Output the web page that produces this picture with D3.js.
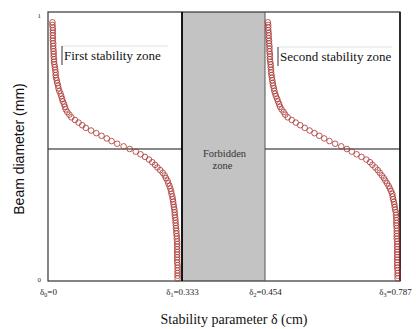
<!DOCTYPE html>
<html>
<head>
<meta charset="utf-8">
<script src="https://cdn.jsdelivr.net/npm/d3@7"></script>
<style>
  html, body { margin: 0; padding: 0; background: #fff; }
  svg { display: block; }
</style>
</head>
<body>
<svg id="chart" width="416" height="329"></svg>
<script>
// ---- data ----
const beamDiameter = [
  0.98,0.97,0.96,0.95,0.94,0.93,0.92,0.91,0.90,0.89,
  0.88,0.87,0.86,0.85,0.84,0.83,0.82,0.81,0.80,0.79,
  0.78,0.77,0.76,0.75,0.74,0.73,0.72,0.71,0.70,0.69,
  0.68,0.67,0.66,0.65,0.64,0.63,0.62,0.61,0.60,0.59,
  0.58,0.57,0.56,0.55,0.54,0.53,0.52,0.51,0.50,0.49,
  0.48,0.47,0.46,0.45,0.44,0.43,0.42,0.41,0.40,0.39,
  0.38,0.37,0.36,0.35,0.34,0.33,0.32,0.31,0.30,0.29,
  0.28,0.27,0.26,0.25,0.24,0.23,0.22,0.21,0.20,0.19,
  0.18,0.17,0.16,0.15,0.14,0.13,0.12,0.11,0.10,0.09,
  0.08,0.07,0.06,0.05,0.04,0.03,0.02,0.01
];
const firstZoneDelta = [
  0.011,0.011,0.012,0.012,0.012,0.012,0.012,0.012,0.013,0.013,
  0.013,0.014,0.014,0.014,0.015,0.015,0.016,0.017,0.018,0.019,
  0.019,0.020,0.022,0.023,0.025,0.026,0.028,0.031,0.033,0.035,
  0.037,0.040,0.042,0.044,0.048,0.053,0.058,0.067,0.076,0.085,
  0.094,0.107,0.120,0.133,0.146,0.158,0.172,0.188,0.203,0.218,
  0.230,0.241,0.251,0.259,0.266,0.272,0.279,0.285,0.290,0.293,
  0.297,0.299,0.302,0.304,0.306,0.307,0.309,0.310,0.311,0.312,
  0.313,0.314,0.315,0.315,0.316,0.317,0.317,0.318,0.318,0.319,
  0.319,0.320,0.320,0.321,0.321,0.321,0.321,0.321,0.321,0.321,
  0.321,0.321,0.322,0.322,0.322,0.322,0.322,0.322
];
const secondZoneDelta = [
  0.461,0.462,0.462,0.462,0.463,0.463,0.463,0.464,0.464,0.465,
  0.465,0.465,0.466,0.466,0.466,0.467,0.468,0.468,0.469,0.469,
  0.470,0.471,0.472,0.473,0.474,0.476,0.477,0.479,0.481,0.484,
  0.486,0.489,0.491,0.495,0.500,0.504,0.510,0.520,0.530,0.541,
  0.552,0.564,0.576,0.588,0.600,0.613,0.627,0.642,0.656,0.668,
  0.680,0.692,0.704,0.713,0.719,0.726,0.732,0.737,0.742,0.747,
  0.751,0.755,0.759,0.762,0.765,0.768,0.769,0.770,0.772,0.773,
  0.774,0.775,0.777,0.777,0.778,0.778,0.778,0.778,0.779,0.779,
  0.779,0.779,0.779,0.780,0.780,0.780,0.780,0.780,0.780,0.780,
  0.780,0.780,0.780,0.780,0.781,0.781,0.781,0.781
];
const xTickValues = [0, 0.333, 0.454, 0.787];
const xTickSubscripts = ["0", "1", "2", "3"];
const yTickValues = [0, 1];
const midDiameter = 0.5;
const forbiddenZone = [0.333, 0.454];

// ---- layout ----
const svg = d3.select("#chart");
const plotTop = 12, plotBottom = 281;
const x = d3.scaleLinear()
  .domain([0, 0.333, 0.454, 0.787])
  .range([48, 182, 265, 400]);
const y = d3.scaleLinear().domain([0, 1]).range([281, 17]);
const x0 = x(0), x1 = x(0.787);

// forbidden zone
svg.append("rect")
  .attr("x", x(forbiddenZone[0])).attr("y", plotTop)
  .attr("width", x(forbiddenZone[1]) - x(forbiddenZone[0]))
  .attr("height", plotBottom - plotTop)
  .attr("fill", "#c3c3c3");

// mid horizontal lines
svg.append("line")
  .attr("x1", x0).attr("x2", x(forbiddenZone[0]))
  .attr("y1", y(midDiameter)).attr("y2", y(midDiameter))
  .attr("stroke", "#111").attr("stroke-width", 1);
svg.append("line")
  .attr("x1", x(forbiddenZone[1])).attr("x2", x1)
  .attr("y1", y(midDiameter)).attr("y2", y(midDiameter))
  .attr("stroke", "#111").attr("stroke-width", 1);

// frame
svg.append("rect")
  .attr("x", x0).attr("y", plotTop)
  .attr("width", x1 - x0).attr("height", plotBottom - plotTop)
  .attr("fill", "none").attr("stroke", "#333").attr("stroke-width", 1.2);
svg.append("line")
  .attr("x1", x(forbiddenZone[0])).attr("x2", x(forbiddenZone[0]))
  .attr("y1", plotTop).attr("y2", plotBottom)
  .attr("stroke", "#000").attr("stroke-width", 1.8);
svg.append("line")
  .attr("x1", x(forbiddenZone[1])).attr("x2", x(forbiddenZone[1]))
  .attr("y1", plotTop).attr("y2", plotBottom)
  .attr("stroke", "#555").attr("stroke-width", 1);
svg.append("line")
  .attr("x1", x1).attr("x2", x1)
  .attr("y1", plotTop).attr("y2", plotBottom)
  .attr("stroke", "#111").attr("stroke-width", 1.5);

// markers
function drawSeries(vals) {
  svg.append("g").selectAll("circle")
    .data(vals.map((d, i) => [d, beamDiameter[i]]))
    .join("circle")
    .attr("cx", d => x(d[0]))
    .attr("cy", d => y(d[1]))
    .attr("r", 2.8)
    .attr("fill", "none")
    .attr("stroke", "#a8332f")
    .attr("stroke-opacity", 0.8)
    .attr("stroke-width", 1);
}
drawSeries(firstZoneDelta);
drawSeries(secondZoneDelta);

// axes
const xAxis = svg.append("g")
  .attr("transform", `translate(0,${plotBottom})`)
  .call(d3.axisBottom(x).tickValues(xTickValues).tickSize(0).tickPadding(8));
xAxis.select(".domain").remove();
xAxis.selectAll("text").each(function(d, i) {
  const t = d3.select(this);
  t.text(null)
    .attr("font-family", "'Liberation Serif', 'Times New Roman', serif")
    .attr("font-size", 9).attr("fill", "#222");
  t.append("tspan").text("δ");
  t.append("tspan").text(xTickSubscripts[i]).attr("font-size", 6).attr("dy", 2);
  t.append("tspan").text("=" + d3.format("")(d)).attr("dy", -2);
  if (i === xTickValues.length - 1) t.attr("dx", -5);
});

const yAxis = svg.append("g")
  .attr("transform", `translate(${x0},0)`)
  .call(d3.axisLeft(y).tickValues(yTickValues).tickFormat(d3.format("d")).tickSize(0).tickPadding(7));
yAxis.select(".domain").remove();
yAxis.selectAll("text")
  .attr("font-family", "'Liberation Serif', serif")
  .attr("font-size", 7).attr("fill", "#333").attr("dy", "0.05em");

// axis titles
svg.append("text")
  .attr("transform", `translate(24,${y(midDiameter)}) rotate(-90)`)
  .attr("text-anchor", "middle")
  .attr("font-family", "'Liberation Sans', Arial, sans-serif")
  .attr("font-size", 14).attr("fill", "#111")
  .text("Beam diameter (mm)");
svg.append("text")
  .attr("x", 234).attr("y", 324)
  .attr("text-anchor", "middle")
  .attr("font-family", "'Liberation Serif', 'Times New Roman', serif")
  .attr("font-size", 14).attr("fill", "#111")
  .text("Stability parameter δ (cm)");

// zone labels
function zoneLabel(xp, yTop, label, lineEnd) {
  svg.append("line").attr("x1", xp).attr("x2", lineEnd)
    .attr("y1", yTop).attr("y2", yTop)
    .attr("stroke", "#e2e2e2").attr("stroke-width", 1);
  svg.append("line").attr("x1", xp).attr("x2", xp)
    .attr("y1", yTop).attr("y2", yTop + 19)
    .attr("stroke", "#333").attr("stroke-width", 1);
  svg.append("text").attr("x", xp + 2).attr("y", yTop + 14)
    .attr("font-family", "'Liberation Serif', 'Times New Roman', serif")
    .attr("font-size", 13).attr("fill", "#111")
    .text(label);
}
zoneLabel(62, 46, "First stability zone", 168);
zoneLabel(278, 47, "Second stability zone", 392);

const fzx = (x(forbiddenZone[0]) + x(forbiddenZone[1])) / 2 + 1;
svg.append("text").attr("x", fzx).attr("y", 157)
  .attr("text-anchor", "middle")
  .attr("font-family", "'Liberation Serif', serif")
  .attr("font-size", 10.5).attr("fill", "#333").text("Forbidden");
svg.append("text").attr("x", fzx - 2).attr("y", 169)
  .attr("text-anchor", "middle")
  .attr("font-family", "'Liberation Serif', serif")
  .attr("font-size", 10.5).attr("fill", "#333").text("zone");
</script>
</body>
</html>
